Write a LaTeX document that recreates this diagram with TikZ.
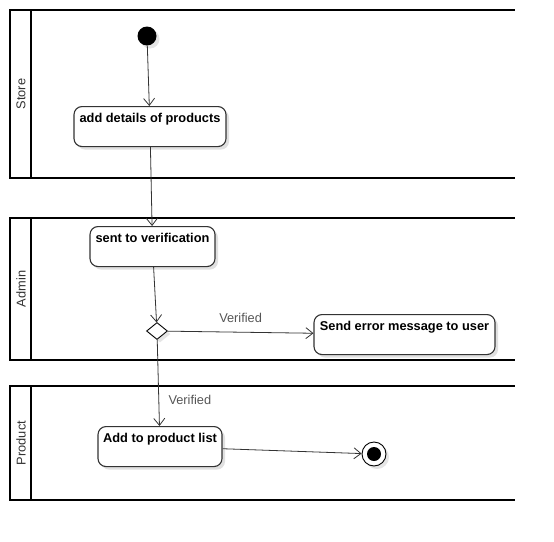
\documentclass[tikz,border=0pt]{standalone}
\usepackage{fontspec}
\setmainfont{Liberation Sans}
\usetikzlibrary{arrows.meta,shapes.geometric,shadows}

\definecolor{edgegray}{HTML}{333333}
\definecolor{labelgray}{HTML}{555555}

\tikzset{
	lane/.style={line width=2pt, line cap=rect},
	lanetext/.style={rotate=90, text=edgegray, font=\fontsize{12.8}{15}\selectfont},
	act/.style={draw=edgegray, line width=1.1pt, rounded corners=8pt, fill=white,
		anchor=north, inner xsep=2pt, inner ysep=5pt, text height=11pt, text depth=19pt,
		font=\bfseries\fontsize{12.8}{15}\selectfont,
		drop shadow={shadow xshift=3pt, shadow yshift=-3pt, fill=black!12, opacity=1}},
	flow/.style={draw=edgegray, line width=0.8pt, -{Straight Barb[length=7pt, width=11pt]}},
	guard/.style={text=labelgray, font=\fontsize{12.8}{15}\selectfont}
}

\begin{document}
\begin{tikzpicture}[x=1pt, y=-1pt]
	\useasboundingbox (0, 0) rectangle (554, 541);

	% swimlanes
	\foreach \top/\bot/\name in {10/178/Store, 218/360/Admin, 386/500/Product}{
		\draw[lane] (514, \top) -- (10, \top) -- (10, \bot) -- (514, \bot);
		\draw[lane] (31, \top) -- (31, \bot);
		\node[lanetext] at (21, {(\top+\bot)/2}) (lane\name) {\name};
	}

	% start and end
	\node[circle, fill=black, minimum size=19pt, inner sep=0,
		drop shadow={shadow xshift=3pt, shadow yshift=-3pt, fill=black!10, opacity=1}] at (147, 36) (start) {};
	\node[circle, draw=black, fill=white, line width=0.9pt, minimum size=24pt, inner sep=0,
		drop shadow={shadow xshift=3pt, shadow yshift=-3pt, fill=black!10, opacity=1}] at (374, 454) (stop) {};
	\fill[black] (stop) circle (7pt);

	% actions
	\node[act, minimum width=152pt] at (150, 106) (add) {add details of products};
	\node[act, minimum width=125pt] at (152.5, 226) (sent) {sent to verification};
	\node[act, minimum width=181pt] at (404.5, 314) (err) {Send error message to user};
	\node[act, minimum width=124pt] at (160, 426) (list) {Add to product list};

	% decision
	\node[diamond, draw=black, fill=white, line width=0.9pt, minimum width=21pt, minimum height=17pt, inner sep=0,
		drop shadow={shadow xshift=3pt, shadow yshift=-3pt, fill=black!10, opacity=1}] at (157, 331) (dec) {};

	% flows
	\draw[flow] (start) -- (add);
	\draw[flow] (add) -- (sent);
	\draw[flow] (sent) -- (dec);
	\draw[flow] (dec) -- node[guard, midway, above=6pt] (g1) {Verified} (err);
	\draw[flow] (dec) -- node[guard, pos=0.7, right=6pt] (g2) {Verified} (list);
	\draw[flow] (list) -- (stop);

\end{tikzpicture}
\end{document}
